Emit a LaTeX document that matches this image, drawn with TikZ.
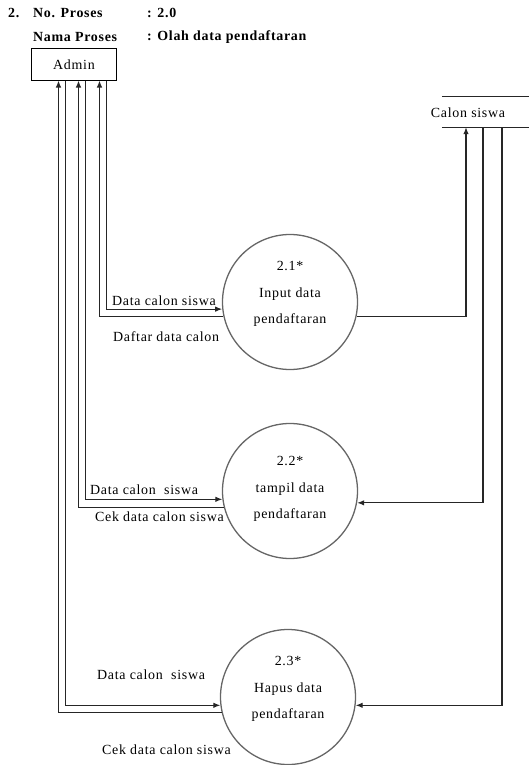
\documentclass[tikz,border=0pt]{standalone}
\usepackage{fontspec}
\setmainfont{Liberation Serif}[LetterSpace=5]
\usetikzlibrary{arrows.meta}
\begin{document}
\begin{tikzpicture}[x=1bp,y=-1bp,
  every node/.style={font=\fontsize{14}{16}\selectfont, inner sep=0pt},
  flow/.style={draw=black!85, line width=1.2bp},
  arr/.style={flow, -{Latex[length=7bp,width=5.5bp]}},
  proc/.style={circle, draw=black!60, line width=1.3bp, minimum size=135bp},
  ptext/.style={align=center, font=\fontsize{14}{26.5}\selectfont},
  hdr/.style={font=\fontsize{14}{16}\selectfont\bfseries, anchor=west},
  lbl/.style={anchor=west}]
\useasboundingbox (0,0) rectangle (529,765);

% header
\node[hdr] (num) at (8,13) {2.};
\node[hdr] (nop) at (33,13) {No. Proses};
\node[hdr] (nopv) at (147,13) {: 2.0};
\node[hdr] (nap) at (33,37) {Nama Proses};
\node[hdr] (napv) at (147,37) {: Olah data pendaftaran};

% external entities
\node[draw, line width=1bp, minimum width=84bp, minimum height=31bp] (admin) at (74,64.5) {Admin};
\node[minimum width=87bp, minimum height=30bp] (store) at (485.5,112) {};
\draw[flow] (store.north west) -- (store.north east) (store.south west) -- (store.south east);
\node (storetxt) at (468,113) {Calon siswa};

% processes
\node[proc, label={[ptext, yshift=8bp]center:{2.1*\\Input data\\pendaftaran}}] (c1) at (290,302) {};
\node[proc, label={[ptext, yshift=2bp]center:{2.2*\\tampil data\\pendaftaran}}] (c2) at (290,491) {};
\node[proc, label={[ptext, yshift=8bp]center:{2.3*\\Hapus data\\pendaftaran}}] (c3) at (288,697) {};

% Admin <-> 2.1
\draw[arr] ([xshift=75bp]admin.south west) |- (c1.186.8);
\draw[arr] (c1.192.8) -| ([xshift=68bp]admin.south west);
% Admin <-> 2.2
\draw[arr] ([xshift=54bp]admin.south west) |- (c2.187.6);
\draw[arr] (c2.194.5) -| ([xshift=47bp]admin.south west);
% Admin <-> 2.3
\draw[arr] ([xshift=34bp]admin.south west) |- (c3.187.7);
\draw[arr] (c3.193.8) -| ([xshift=27bp]admin.south west);

% Calon siswa
\draw[arr] (c1.348) -| ([xshift=-19.5bp]store.south);
\draw[arr] ([xshift=-2.5bp]store.south) |- (c2.350);
\draw[arr] ([xshift=16.5bp]store.south) |- (c3.353);

% flow labels
\node[lbl] (l1a) at (112,301) {Data calon siswa};
\node[lbl] (l1b) at (113,337) {Daftar data calon};
\node[lbl] (l2a) at (90,490) {Data calon\ \ siswa};
\node[lbl] (l2b) at (95,517) {Cek data calon siswa};
\node[lbl] (l3a) at (97,675) {Data calon\ \ siswa};
\node[lbl] (l3b) at (102,750) {Cek data calon siswa};
\end{tikzpicture}
\end{document}
